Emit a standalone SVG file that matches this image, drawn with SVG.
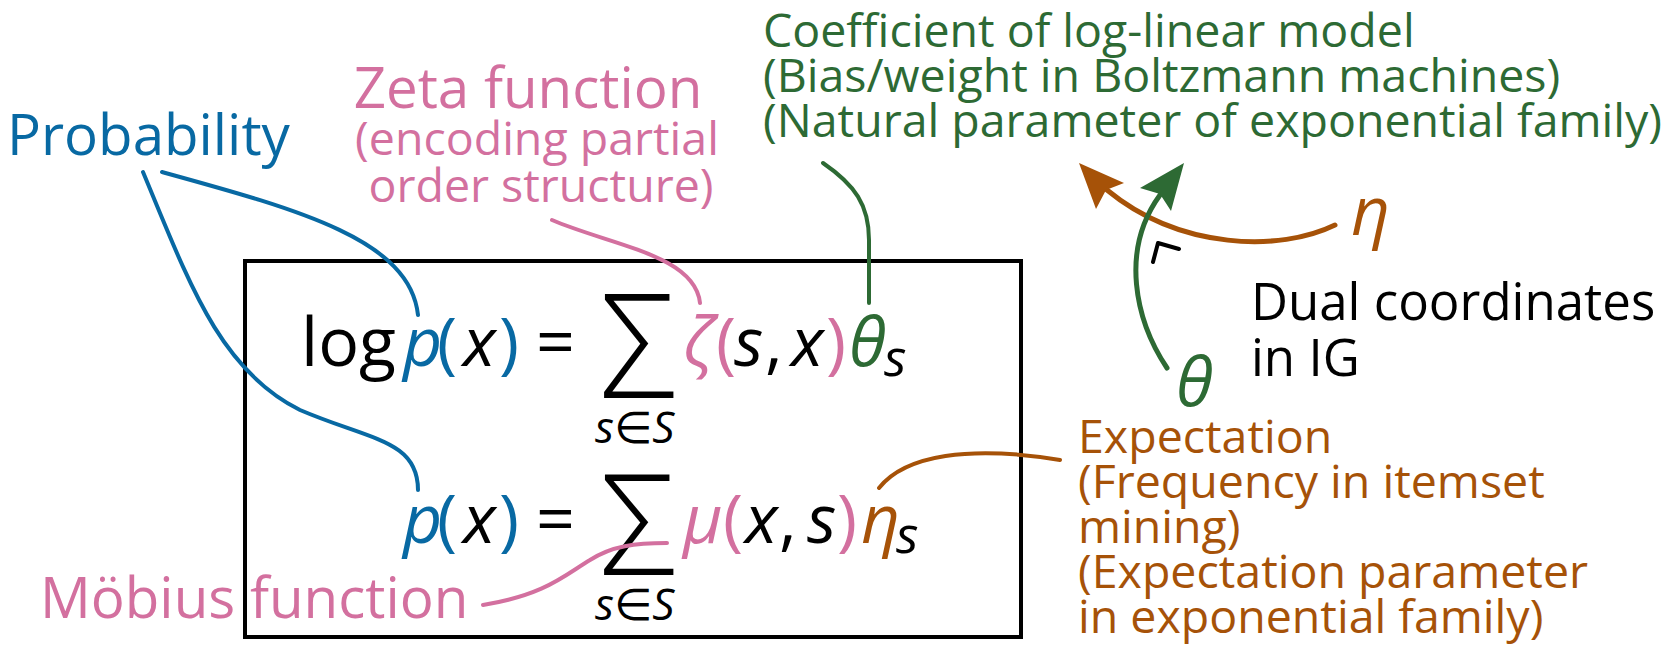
<svg xmlns="http://www.w3.org/2000/svg" width="1665" height="645" viewBox="0 0 1665 645">
<style>
text{font-family:'Open Sans','Noto Sans','DejaVu Sans',sans-serif}
.eq{font-size:68px}
.sub{font-size:44px}
.ss{font-size:52px}
.lab{font-size:56.5px}
.sm{font-size:46.5px}
.it{font-style:italic}
.k{fill:#000}
.b{fill:#0869a3}
.p{fill:#d3709f}
.g{fill:#2d6a34}
.o{fill:#a65208}
.ln{fill:none;stroke-width:4;stroke-linecap:round}
.ar{fill:none;stroke-width:5;stroke-linecap:round}
.lb{stroke:#0869a3}.lp{stroke:#d3709f}.lg{stroke:#2d6a34}.lo{stroke:#a65208}
.sig{font-family:'Open Sans',sans-serif;font-weight:300;font-size:100px}
</style>
<rect width="1665" height="645" fill="#fff"/>
<g id="equation-box">
<rect x="245" y="261" width="776" height="376" fill="none" stroke="#000" stroke-width="4"/>
</g>
<g id="equation-log">
<text class="eq" y="366"><tspan x="301" class="k">log</tspan><tspan x="403" class="b it">p</tspan><tspan x="437" class="b">(</tspan><tspan x="463" class="k it">x</tspan><tspan x="499" class="b">)</tspan><tspan x="536" class="k">=</tspan><tspan x="683" class="p it">ζ</tspan><tspan x="716" class="p">(</tspan><tspan x="734" class="k it">s</tspan><tspan x="765" class="k">,</tspan><tspan x="791" class="k it">x</tspan><tspan x="826" class="p">)</tspan><tspan x="849" class="g it">θ</tspan></text>
<text class="ss k it" x="884" y="376">s</text>
<text class="sig k" transform="translate(600,398) scale(1.37,1.45)">Σ</text>
<text class="sub k" x="595" y="443"><tspan class="it">s</tspan>∈<tspan class="it">S</tspan></text>
</g>
<g id="equation-p">
<text class="eq" y="543"><tspan x="403" class="b it">p</tspan><tspan x="437" class="b">(</tspan><tspan x="463" class="k it">x</tspan><tspan x="499" class="b">)</tspan><tspan x="536" class="k">=</tspan><tspan x="683" class="p it">μ</tspan><tspan x="723" class="p">(</tspan><tspan x="745" class="k it">x</tspan><tspan x="779" class="k">,</tspan><tspan x="807" class="k it">s</tspan><tspan x="837" class="p">)</tspan><tspan x="861" class="o it">η</tspan></text>
<text class="ss k it" x="896" y="553">s</text>
<text class="sig k" transform="translate(600,575) scale(1.37,1.40)">Σ</text>
<text class="sub k" x="595" y="620"><tspan class="it">s</tspan>∈<tspan class="it">S</tspan></text>
</g>
<g id="probability">
<text class="lab b" x="7" y="155">Probability</text>
</g>
<g id="zeta">
<text class="p" text-anchor="middle"><tspan class="lab" x="528" y="108">Zeta function</tspan><tspan class="sm" x="537" y="155">(encoding partial</tspan><tspan class="sm" x="541" y="202">order structure)</tspan></text>
</g>
<g id="coefficient">
<text class="sm g"><tspan x="763" y="47">Coefficient of log-linear model</tspan><tspan x="763" y="92">(Bias/weight in Boltzmann machines)</tspan><tspan x="763" y="137">(Natural parameter of exponential family)</tspan></text>
</g>
<g id="eta">
<text class="eq o it" x="1351" y="235">η</text>
</g>
<g id="theta">
<text class="eq g it" x="1176" y="406">θ</text>
</g>
<g id="dual">
<text class="k" style="font-size:51px"><tspan x="1251" y="320">Dual coordinates</tspan><tspan x="1251" y="376">in IG</tspan></text>
</g>
<g id="expectation">
<text class="sm o"><tspan x="1078" y="453">Expectation</tspan><tspan x="1078" y="498">(Frequency in itemset</tspan><tspan x="1078" y="543">mining)</tspan><tspan x="1078" y="588">(Expectation parameter</tspan><tspan x="1078" y="633">in exponential family)</tspan></text>
</g>
<g id="mobius">
<text class="lab p" x="40" y="618">Möbius function</text>
</g>
<g id="connectors">
<path class="ln lb" d="M162,172 C300,210 410,240 418,315"/>
<path class="ln lb" d="M143,172 C190,285 220,370 300,410 C370,440 418,440 418,490"/>
<path class="ln lp" d="M552,220 C610,245 695,255 700,303"/>
<path class="ln lg" d="M823,163 C855,185 869,205 869,240 L869,303"/>
<path class="ln lo" d="M879,488 C905,455 970,445 1060,460"/>
<path class="ln lp" d="M483,605 C545,595 565,575 590,560 C612,546 635,543 667,543"/>
<path class="ar lo" d="M1335,225 C1280,252 1180,250 1107,190"/>
<polygon fill="#a65208" points="1079,163 1124,183 1106,190 1096,209"/>
<path class="ar lg" d="M1167,368 C1135,320 1120,250 1160,195"/>
<polygon fill="#2d6a34" points="1184,163 1171,211 1160,194 1140,188"/>
<polyline fill="none" stroke="#000" stroke-width="4" stroke-linecap="round" stroke-linejoin="round" points="1179,249 1158,243 1153,262"/>
</g>
</svg>
